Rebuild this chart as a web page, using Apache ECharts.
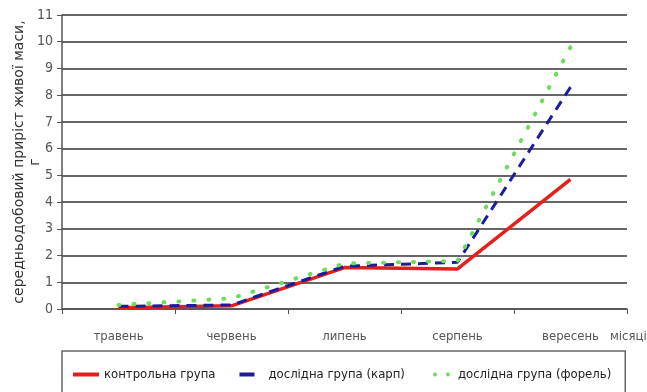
<!DOCTYPE html>
<html>
<head>
<meta charset="utf-8">
<script src="https://cdn.jsdelivr.net/npm/echarts@6/dist/echarts.min.js"></script>
<style>
  html, body { margin: 0; padding: 0; background: #fff; }
  #chart { width: 647px; height: 392px; }
</style>
</head>
<body>
<div id="chart"></div>
<script>
// Months (x categories)
const months = ['травень', 'червень', 'липень', 'серпень', 'вересень'];

// Average daily live-weight gain, g
const control = [0.05, 0.12, 1.55, 1.5, 4.85];
const carp = [0.1, 0.15, 1.6, 1.75, 8.3];
const trout = [0.15, 0.4, 1.7, 1.8, 9.8];

// Y-axis ticks
const yMin = 0, yMax = 11, yStep = 1;

const narrow = 'DejaVu Sans Condensed, Liberation Sans Narrow, Liberation Sans, sans-serif';
const wide = 'DejaVu Sans, Verdana, sans-serif';

// Legend glyphs: the leading moves pin each glyph's box to 26x4
const iconSolid = 'path://M0,0 H26 V4 H0 Z';
const iconDash = 'path://M0,0 M26,4 M2,0 H17 V4 H2 Z';
const iconDots = 'path://M0,0 M26,4 M6,2 A2,2 0 1 1 10,2 A2,2 0 1 1 6,2 Z M19,2 A2,2 0 1 1 23,2 A2,2 0 1 1 19,2 Z';

const chart = echarts.init(document.getElementById('chart'), null, { renderer: 'canvas' });

chart.setOption({
  animation: false,
  backgroundColor: '#fff',
  grid: { left: 62, right: 20, top: 15, bottom: 83, containLabel: false, outerBoundsMode: 'none' },
  xAxis: {
    type: 'category',
    data: months,
    boundaryGap: true,
    name: 'місяці',
    nameLocation: 'end',
    nameGap: 0,
    nameMoveOverlap: false,
    nameTextStyle: {
      fontFamily: narrow, fontSize: 13, color: '#555',
      verticalAlign: 'top', align: 'left', padding: [21, 0, 0, -17]
    },
    axisLine: { show: true, lineStyle: { color: '#555', width: 1.5 } },
    axisTick: { show: true, length: 5, lineStyle: { color: '#555' } },
    axisLabel: { fontFamily: narrow, fontSize: 13, color: '#555', margin: 21 },
    splitLine: { show: false }
  },
  yAxis: {
    type: 'value',
    min: yMin, max: yMax, interval: yStep,
    name: 'середньодобовий приріст живої маси,\nг',
    nameLocation: 'middle',
    nameGap: 19,
    nameMoveOverlap: false,
    nameRotate: 90,
    nameTextStyle: { fontFamily: wide, fontSize: 14, color: '#333', lineHeight: 16 },
    axisLine: { show: true, lineStyle: { color: '#555', width: 1.5 } },
    axisTick: { show: true, length: 5, lineStyle: { color: '#555' } },
    axisLabel: { fontFamily: narrow, fontSize: 14, color: '#555', margin: 9 },
    splitLine: { show: true, lineStyle: { color: '#333', width: 1.5 } }
  },
  legend: {
    left: 62, top: 351,
    padding: [17, 14, 17, 11],
    borderColor: '#666', borderWidth: 1.5,
    itemGap: 22,
    itemWidth: 26, itemHeight: 4,
    textStyle: { fontFamily: narrow, fontSize: 13, color: '#222' },
    data: [
      { name: 'контрольна група', icon: iconSolid },
      { name: 'дослідна група (карп)', icon: iconDash },
      { name: 'дослідна група (форель)', icon: iconDots }
    ]
  },
  series: [
    {
      name: 'контрольна група',
      type: 'line',
      data: control,
      symbol: 'none',
      lineStyle: { color: '#e3201b', width: 3.5 },
      itemStyle: { color: '#e3201b' },
      z: 3
    },
    {
      name: 'дослідна група (карп)',
      type: 'line',
      data: carp,
      symbol: 'none',
      lineStyle: { color: '#1b1e9c', width: 3, type: [10, 7] },
      itemStyle: { color: '#1b1e9c' },
      z: 4
    },
    {
      name: 'дослідна група (форель)',
      type: 'line',
      data: trout,
      symbol: 'none',
      lineStyle: { color: '#6cdc5c', width: 4, type: [1, 14], cap: 'round' },
      itemStyle: { color: '#6cdc5c' },
      z: 5
    }
  ]
});
</script>
</body>
</html>
